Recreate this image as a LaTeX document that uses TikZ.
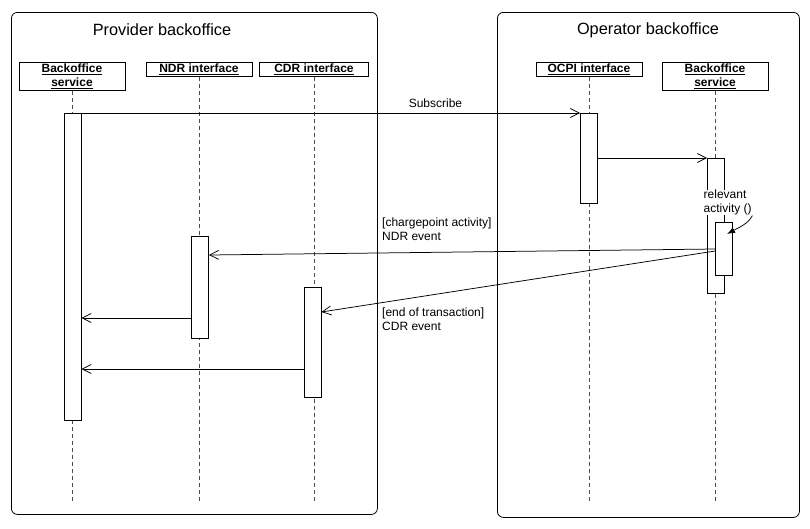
\documentclass[tikz,border=0pt]{standalone}
\usepackage{fontspec}
\setmainfont{Liberation Sans}
\usetikzlibrary{arrows.meta,calc}

\begin{document}
\begin{tikzpicture}[x=1pt, y=-1pt,
					container/.style = {draw, rounded corners=6pt, line width=0.8pt, inner sep=0pt, anchor=north west},
					head/.style = {draw, line width=0.8pt, font=\fontsize{12}{14}\selectfont\bfseries, align=center, inner sep=0pt, minimum width=106pt, anchor=north},
					bar/.style = {draw, fill=white, line width=0.8pt, minimum width=17pt, inner sep=0pt, anchor=north},
					lifeline/.style = {draw=black!70, dash pattern=on 4pt off 3pt, line width=0.7pt},
					msg/.style = {-{Straight Barb[length=9pt,width=9pt]}, line width=0.75pt},
					lbl/.style = {font=\fontsize{12}{13.5}\selectfont, align=left, inner sep=0pt}
				]
				\useasboundingbox (0,0) rectangle (810,528);
				\def\lifeend{501}
				% the two backoffices
				\node[container, minimum width=366pt, minimum height=502pt] (provider) at (11,12) {};
				\node[container, minimum width=302pt, minimum height=505pt] (operator) at (497,12) {};
				\node[font=\fontsize{16.3}{18}\selectfont] (providertitle) at (162,30) {Provider backoffice};
				\node[font=\fontsize{16.3}{18}\selectfont] (operatortitle) at (648,30) {Operator backoffice};
				% heads
				\node[head, minimum height=28pt] (provservice) at (72,62) {\underline{Backoffice}\\\underline{service}};
				\node[head, minimum height=14pt] (ndr) at (199,62) {\underline{NDR interface}};
				\node[head, minimum height=14pt, minimum width=109pt] (cdr) at (314,62) {\underline{CDR interface}};
				\node[head, minimum height=14pt] (ocpi) at (589,62) {\underline{OCPI interface}};
				\node[head, minimum height=28pt] (opservice) at (715,62) {\underline{Backoffice}\\\underline{service}};
				\coordinate (bottom) at (0,\lifeend);
				\foreach \h in {provservice,ndr,cdr,ocpi,opservice}
					\draw[lifeline] (\h.south) -- (\h.south |- bottom);
				% activations
				\node[bar, minimum height=307pt] (provact) at (72.5,113) {};
				\node[bar, minimum height=102pt] (ndract) at (200,236) {};
				\node[bar, minimum height=110pt] (cdract) at (312.5,287) {};
				\node[bar, minimum height=90pt] (ocpiact) at (589,113) {};
				\node[bar, minimum height=135pt] (opact) at (716,158) {};
				\node[bar, minimum height=53pt] (relact) at (724,222) {};
				% messages
				\draw[msg] (provact.north east) -- node[lbl, pos=0.71, above=5pt] (subscribe) {Subscribe} (ocpiact.north west);
				\draw[msg] (ocpiact.east |- opact.north) -- (opact.north west);
				\node[lbl, fill=white, inner sep=0.5pt, anchor=north west] (relevant) at (703,189.5) {relevant\\activity ()};
				\draw[-{Latex[length=8pt,width=6pt]}, line width=0.75pt] (relevant.south east) .. controls (748,224) and (738,228) .. ($(relact.north)+(3,12)$);
				\draw[msg] ($(relact.north west)+(0,27)$) -- ($(ndract.north east)+(0,19)$);
				\draw[msg] ($(relact.north west)+(0,29)$) -- ($(cdract.north east)+(0,25)$);
				\node[lbl, anchor=north west] (ndrlabel) at (382,218) {[chargepoint activity]\\NDR event};
				\node[lbl, anchor=north west] (cdrlabel) at (382,308) {[end of transaction]\\CDR event};
				\draw[msg] ($(ndract.north west)+(0,82)$) coordinate (ndrret) -- (provact.east |- ndrret);
				\draw[msg] ($(cdract.north west)+(0,82)$) coordinate (cdrret) -- (provact.east |- cdrret);
			\end{tikzpicture}
\end{document}
